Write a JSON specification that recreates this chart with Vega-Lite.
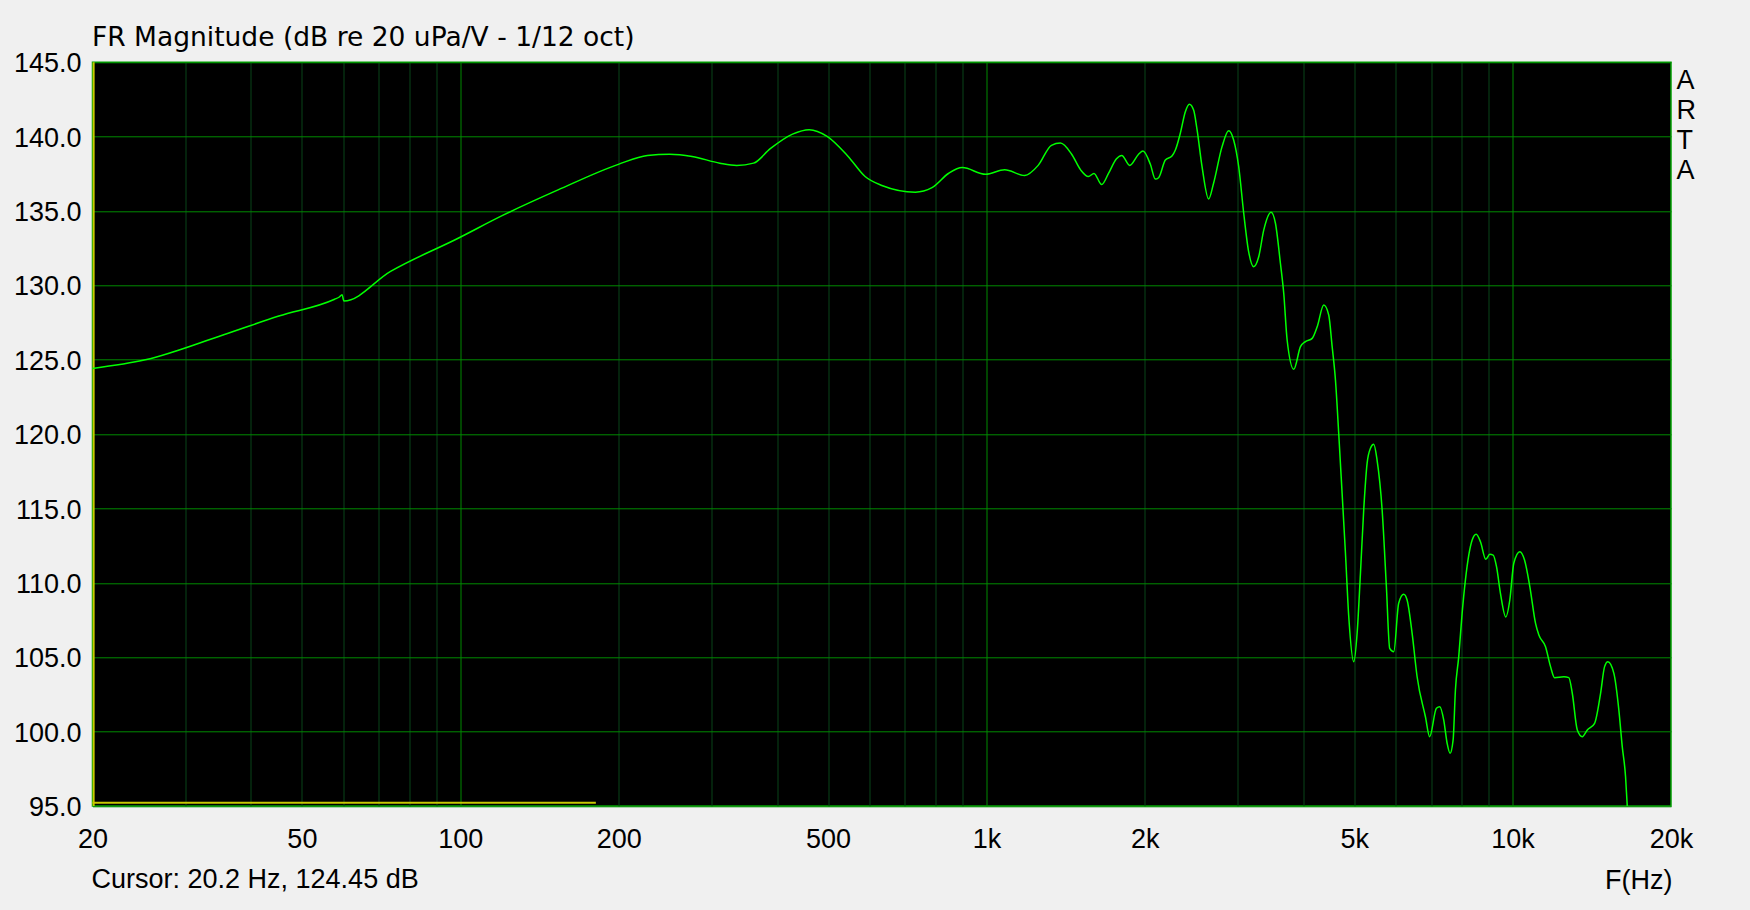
{
  "$schema": "https://vega.github.io/schema/vega-lite/v6.json",
  "width": 1578.5,
  "height": 743.7,
  "autosize": "none",
  "padding": {"left": 92.5, "top": 62.3, "right": 79, "bottom": 104},
  "background": "#f0f0f0",
  "config": {
    "view": {"fill": "#000000", "stroke": "#00a000", "strokeWidth": 1.5},
    "axis": {
      "labelFont": "Liberation Sans",
      "labelFontSize": 27,
      "labelColor": "#000000",
      "titleFont": "Liberation Sans",
      "titleFontSize": 27,
      "titleFontWeight": "normal",
      "titleColor": "#000000",
      "domain": false,
      "tickSize": 0,
      "ticks": false,
      "labelFlush": false,
      "labelOverlap": false,
      "labelBound": false
    }
  },
  "datasets": {
    "fr": [
      {"f": 20, "db": 124.42}, {"f": 25.2, "db": 125.0}, {"f": 35.4, "db": 126.67}, {"f": 45.2, "db": 127.94},
      {"f": 57.7, "db": 129.07}, {"f": 58.9, "db": 129.22}, {"f": 59.6, "db": 129.38}, {"f": 60.1, "db": 128.95},
      {"f": 73.7, "db": 130.94}, {"f": 99.3, "db": 133.19}, {"f": 120.1, "db": 134.69}, {"f": 153.4, "db": 136.42},
      {"f": 199.7, "db": 138.14}, {"f": 226.8, "db": 138.74}, {"f": 250, "db": 138.82}, {"f": 275.8, "db": 138.67},
      {"f": 311.4, "db": 138.22}, {"f": 335.2, "db": 138.07}, {"f": 360.9, "db": 138.22}, {"f": 388.3, "db": 139.19},
      {"f": 428, "db": 140.17}, {"f": 460.4, "db": 140.47}, {"f": 498, "db": 140.02}, {"f": 546, "db": 138.67},
      {"f": 588, "db": 137.32}, {"f": 632.7, "db": 136.72}, {"f": 732.6, "db": 136.27}, {"f": 788, "db": 136.57},
      {"f": 848, "db": 137.54}, {"f": 899.6, "db": 137.92}, {"f": 996.6, "db": 137.47}, {"f": 1083, "db": 137.77},
      {"f": 1182, "db": 137.39}, {"f": 1254, "db": 138.07}, {"f": 1329, "db": 139.42}, {"f": 1382, "db": 139.57},
      {"f": 1452, "db": 138.82}, {"f": 1510, "db": 137.77}, {"f": 1562, "db": 137.32}, {"f": 1601, "db": 137.53},
      {"f": 1656, "db": 136.78}, {"f": 1706, "db": 137.53}, {"f": 1765, "db": 138.5}, {"f": 1808, "db": 138.74},
      {"f": 1872, "db": 138.07}, {"f": 1946, "db": 138.82}, {"f": 1984, "db": 139.04}, {"f": 2049, "db": 138.14},
      {"f": 2094, "db": 137.15}, {"f": 2124, "db": 137.24}, {"f": 2188, "db": 138.43}, {"f": 2252, "db": 138.7},
      {"f": 2286, "db": 139.1}, {"f": 2336, "db": 140.23}, {"f": 2388, "db": 141.68}, {"f": 2430, "db": 142.18},
      {"f": 2476, "db": 141.79}, {"f": 2514, "db": 140.45}, {"f": 2569, "db": 137.98}, {"f": 2644, "db": 135.81},
      {"f": 2702, "db": 136.87}, {"f": 2804, "db": 139.33}, {"f": 2886, "db": 140.4}, {"f": 2950, "db": 139.78},
      {"f": 3016, "db": 137.98}, {"f": 3083, "db": 134.85}, {"f": 3150, "db": 132.27}, {"f": 3220, "db": 131.26},
      {"f": 3292, "db": 131.93}, {"f": 3366, "db": 133.73}, {"f": 3476, "db": 134.92}, {"f": 3542, "db": 134.18},
      {"f": 3620, "db": 131.49}, {"f": 3673, "db": 129.47}, {"f": 3728, "db": 126.33}, {"f": 3838, "db": 124.36},
      {"f": 3952, "db": 125.88}, {"f": 4039, "db": 126.22}, {"f": 4160, "db": 126.44}, {"f": 4252, "db": 127.22},
      {"f": 4376, "db": 128.68}, {"f": 4472, "db": 128.01}, {"f": 4540, "db": 125.88}, {"f": 4606, "db": 123.64},
      {"f": 4672, "db": 120.06}, {"f": 4742, "db": 116.02}, {"f": 4812, "db": 111.99}, {"f": 4882, "db": 107.73},
      {"f": 4990, "db": 104.7}, {"f": 5064, "db": 106.61}, {"f": 5138, "db": 110.64}, {"f": 5212, "db": 114.9},
      {"f": 5290, "db": 118.04}, {"f": 5368, "db": 119.05}, {"f": 5446, "db": 119.32}, {"f": 5526, "db": 118.26},
      {"f": 5650, "db": 114.9}, {"f": 5756, "db": 109.74}, {"f": 5840, "db": 105.6}, {"f": 5944, "db": 105.37},
      {"f": 6074, "db": 108.63}, {"f": 6210, "db": 109.23}, {"f": 6302, "db": 108.85}, {"f": 6442, "db": 106.61},
      {"f": 6584, "db": 103.69}, {"f": 6828, "db": 101.0}, {"f": 6956, "db": 99.66}, {"f": 7164, "db": 101.57},
      {"f": 7270, "db": 101.68}, {"f": 7398, "db": 100.78}, {"f": 7508, "db": 99.22}, {"f": 7606, "db": 98.54},
      {"f": 7708, "db": 99.44}, {"f": 7786, "db": 102.8}, {"f": 7900, "db": 105.04}, {"f": 8018, "db": 107.96},
      {"f": 8134, "db": 110.19}, {"f": 8378, "db": 112.88}, {"f": 8526, "db": 113.27}, {"f": 8688, "db": 112.77},
      {"f": 8892, "db": 111.59}, {"f": 9050, "db": 111.92}, {"f": 9184, "db": 111.87}, {"f": 9320, "db": 111.09},
      {"f": 9482, "db": 109.3}, {"f": 9706, "db": 107.71}, {"f": 9878, "db": 108.85}, {"f": 10052, "db": 111.32},
      {"f": 10320, "db": 112.1}, {"f": 10536, "db": 111.54}, {"f": 10784, "db": 109.74}, {"f": 11056, "db": 107.28},
      {"f": 11218, "db": 106.5}, {"f": 11550, "db": 105.71}, {"f": 11806, "db": 104.37}, {"f": 12014, "db": 103.63},
      {"f": 12514, "db": 103.69}, {"f": 12790, "db": 103.63}, {"f": 12984, "db": 102.58}, {"f": 13272, "db": 100.11},
      {"f": 13566, "db": 99.66}, {"f": 13866, "db": 100.11}, {"f": 14316, "db": 100.56}, {"f": 14696, "db": 102.58},
      {"f": 14956, "db": 104.37}, {"f": 15172, "db": 104.7}, {"f": 15576, "db": 103.92}, {"f": 15920, "db": 101.45},
      {"f": 16158, "db": 98.99}, {"f": 16394, "db": 96.97}, {"f": 16516, "db": 95.0}, {"f": 16600, "db": 94.0}
    ],
    "yellow": [
      {"f": 20.1, "f2": 20.1, "db": 95, "db2": 145},
      {"f": 20, "f2": 181, "db": 95.22, "db2": 95.22}
    ]
  },
  "layer": [
    {
      "data": {"name": "yellow"},
      "mark": {"type": "rule", "color": "#c8c800", "strokeWidth": 2},
      "encoding": {
        "x": {
          "field": "f", "type": "quantitative",
          "scale": {"type": "log", "domain": [20, 20000], "nice": false},
          "axis": {
            "orient": "top", "labels": false, "grid": false,
            "title": "Cursor: 20.2 Hz, 124.45 dB",
            "titleAlign": "left", "titleAnchor": null, "titleBaseline": "alphabetic",
            "titleX": -1.5, "titleY": 825
          }
        },
        "x2": {"field": "f2"},
        "y": {
          "field": "db", "type": "quantitative",
          "scale": {"domain": [95, 145], "nice": false, "zero": false},
          "axis": {
            "orient": "right", "labels": false, "grid": false,
            "title": ["A", "R", "T", "A"],
            "titleAngle": 0, "titleAlign": "left", "titleBaseline": "alphabetic",
            "titleLineHeight": 30, "titleX": 5, "titleY": 26
          }
        },
        "y2": {"field": "db2"}
      }
    },
    {
      "data": {"name": "fr"},
      "mark": {"type": "line", "color": "#00ff00", "strokeWidth": 1.5, "interpolate": "monotone", "clip": true},
      "encoding": {
        "x": {
          "field": "f", "type": "quantitative",
          "scale": {"type": "log", "domain": [20, 20000], "nice": false},
          "axis": {
            "orient": "bottom",
            "values": [20, 30, 40, 50, 60, 70, 80, 90, 100, 200, 300, 400, 500, 600, 700, 800, 900, 1000, 2000, 3000, 4000, 5000, 6000, 7000, 8000, 9000, 10000, 20000],
            "labelExpr": "indexof([20, 50, 100, 200, 500], datum.value) >= 0 ? datum.value + '' : (indexof([1000, 2000, 5000, 10000, 20000], datum.value) >= 0 ? (datum.value / 1000) + 'k' : '')",
            "labelPadding": 20.5,
            "grid": true,
            "gridColor": {"condition": {"test": "datum.value == 100 || datum.value == 1000 || datum.value == 10000", "value": "#008a00"}, "value": "#084419"},
            "gridOpacity": {"condition": {"test": "datum.value == 20 || datum.value == 20000", "value": 0}, "value": 1},
            "gridWidth": 1,
            "title": "F(Hz)",
            "titleAlign": "right", "titleAnchor": null, "titleBaseline": "alphabetic",
            "titleX": 1579.5, "titleY": 82
          }
        },
        "y": {
          "field": "db", "type": "quantitative",
          "scale": {"domain": [95, 145], "nice": false, "zero": false},
          "axis": {
            "orient": "left",
            "values": [95, 100, 105, 110, 115, 120, 125, 130, 135, 140, 145],
            "format": ".1f",
            "labelPadding": 11.5,
            "labelOffset": 1.5,
            "grid": true,
            "gridColor": "#008a00",
            "gridWidth": 1,
            "title": "FR Magnitude (dB re 20 uPa/V - 1/12 oct)",
            "titleFont": "DejaVu Sans", "titleFontSize": 26.5,
            "titleAngle": 0, "titleAlign": "left", "titleAnchor": null, "titleBaseline": "alphabetic",
            "titleX": -1, "titleY": -16.6
          }
        }
      }
    }
  ],
  "resolve": {"scale": {"x": "independent", "y": "independent"}}
}
